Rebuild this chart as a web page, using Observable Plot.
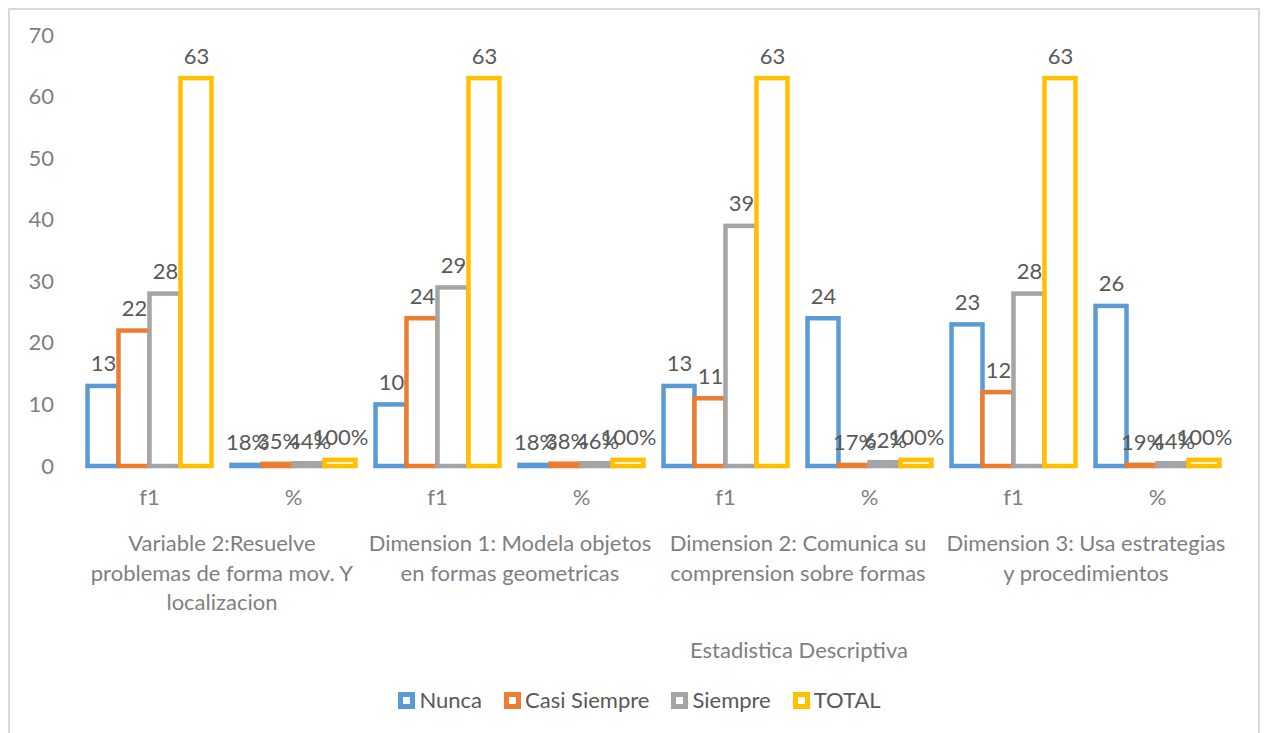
<!DOCTYPE html>
<html>
<head>
<meta charset="utf-8">
<script src="https://cdn.jsdelivr.net/npm/d3@7"></script>
<script src="https://cdn.jsdelivr.net/npm/@observablehq/plot@0.6"></script>
<style>
  html, body { margin: 0; padding: 0; background: #fff; }
  body { font-family: Lato, "Open Sans", sans-serif; width: 1265px; height: 733px; overflow: hidden; position: relative; }
  #frame { position: absolute; left: 8px; top: 8px; width: 1248px; height: 740px; border: 2px solid #d9d9d9; pointer-events: none; }
  #xtitle { position: absolute; left: 690px; top: 637px; font-size: 22px; line-height: 26px; color: #7f7f7f; white-space: nowrap; }
  #legend { position: absolute; left: 0; width: 1265px; top: 687px; display: flex; justify-content: center; gap: 22px; font-size: 22px; line-height: 26px; color: #595959; padding-left: 14px; box-sizing: border-box; }
  .item { display: flex; align-items: center; gap: 4px; }
  .sw { width: 7px; height: 7px; border: 5px solid; background: #fff; }
</style>
</head>
<body>
<div id="chart"></div>
<div id="xtitle">Estadistica Descriptiva</div>
<div id="legend"></div>
<div id="frame"></div>
<script>
// ---- data ----
const groups = [
  "Variable 2:Resuelve\nproblemas de forma mov. Y\nlocalizacion",
  "Dimension 1: Modela objetos\nen formas geometricas",
  "Dimension 2: Comunica su\ncomprension sobre formas",
  "Dimension 3: Usa estrategias\ny procedimientos"
];
const subcats = ["f1", "%", "f1", "%", "f1", "%", "f1", "%"];
const series = ["Nunca", "Casi Siempre", "Siempre", "TOTAL"];
const colors = ["#5B9BD5", "#ED7D31", "#A5A5A5", "#FFC000"];
const nunca       = [13, 0.18, 10, 0.18, 13, 24,   23, 26];
const casiSiempre = [22, 0.35, 24, 0.38, 11, 0.17, 12, 0.19];
const siempre     = [28, 0.44, 29, 0.46, 39, 0.62, 28, 0.44];
const total       = [63, 1.00, 63, 1.00, 63, 1.00, 63, 1.00];
const yTicks = [0, 10, 20, 30, 40, 50, 60, 70];

// ---- table ----
const valuesBySeries = [nunca, casiSiempre, siempre, total];
const rows = [];
subcats.forEach((sc, i) => {
  series.forEach((s, j) => {
    rows.push({cat: i, sub: sc, series: s, value: valuesBySeries[j][i]});
  });
});
const pct = d3.format(".0%");
const labelOf = d => (d.sub === "%" && d.value <= 1) ? pct(d.value) : String(d.value);
const dims = groups.map((label, i) => ({cat: 2 * i, label}));

const W = 1265, ML = 73.5, MR = 32.5;
const band = (W - ML - MR) / subcats.length;

const chart = Plot.plot({
  width: W,
  height: 630,
  marginTop: 35,
  marginBottom: 164,
  marginLeft: ML,
  marginRight: MR,
  style: {fontFamily: "Lato, 'Open Sans', sans-serif", fontSize: "22px", color: "#7f7f7f", background: "transparent"},
  fx: {domain: d3.range(subcats.length), padding: 0, axis: "bottom", label: null, tickSize: 0, tickPadding: 23, tickFormat: i => subcats[i]},
  x: {domain: series, axis: null, paddingInner: 0, paddingOuter: 0.3},
  y: {domain: [0, 70], ticks: yTicks, tickSize: 0, tickPadding: 23.5, label: null, tickFormat: d => String(d)},
  color: {domain: series, range: colors},
  marks: [
    Plot.barY(rows, {fx: "cat", x: "series", y: "value", fill: "white", stroke: "series", strokeWidth: 4.5}),
    Plot.text(rows, {fx: "cat", x: "series", y: "value", text: labelOf, lineAnchor: "bottom", dy: -15, fontSize: 22, fill: "#595959"}),
    Plot.text(dims, {fx: "cat", text: "label", frameAnchor: "bottom", dx: band / 2, dy: 64, lineAnchor: "top", lineHeight: 1.34, fontSize: 22, fill: "#7f7f7f"})
  ]
});
document.getElementById("chart").appendChild(chart);

// ---- legend ----
const legend = document.getElementById("legend");
series.forEach((s, j) => {
  const it = document.createElement("div");
  it.className = "item";
  const sw = document.createElement("span");
  sw.className = "sw";
  sw.style.borderColor = colors[j];
  const tx = document.createElement("span");
  tx.textContent = s;
  it.appendChild(sw);
  it.appendChild(tx);
  legend.appendChild(it);
});
</script>
</body>
</html>
